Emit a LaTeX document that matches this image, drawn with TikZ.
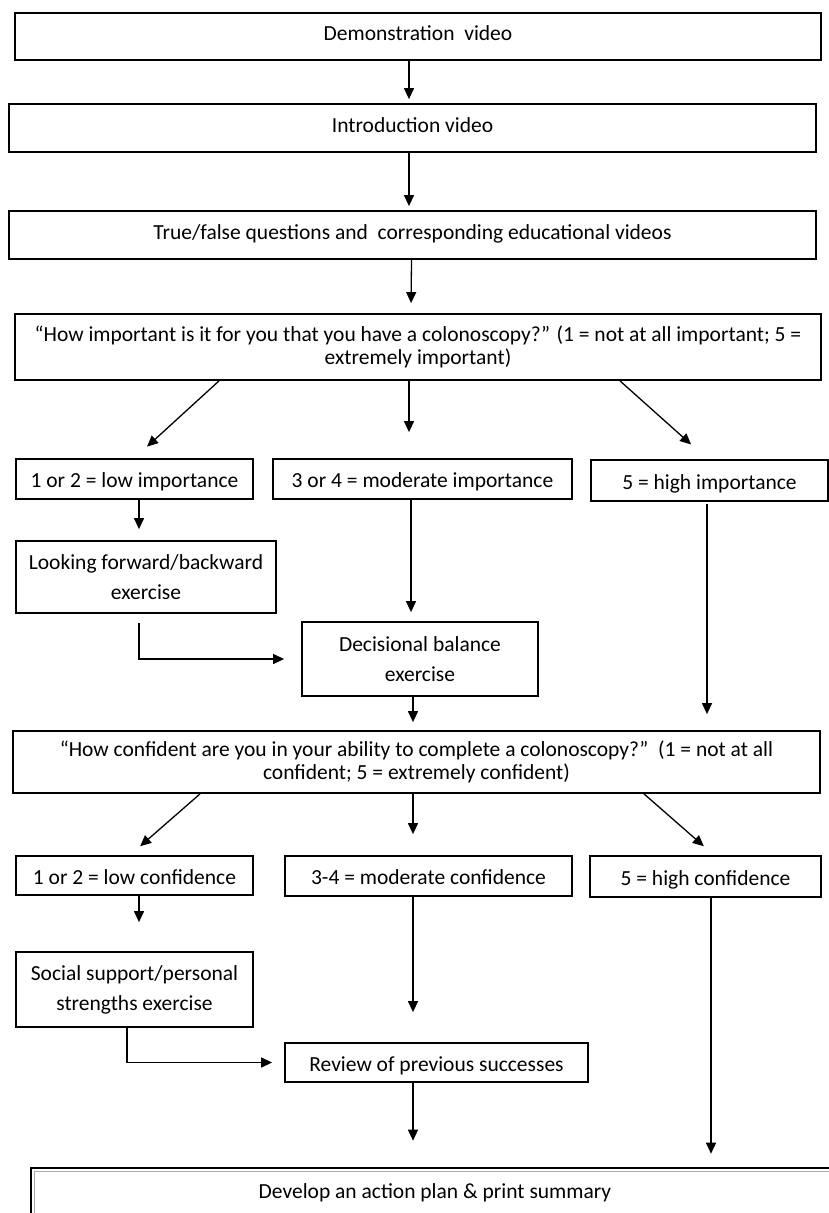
\documentclass[tikz,border=0pt]{standalone}
\usepackage{fontspec}
\setmainfont{Carlito}
\usetikzlibrary{arrows.meta}

\begin{document}
\begin{tikzpicture}[x=1pt, y=-1pt,
    box/.style={draw, line width=1.8pt, align=center, inner sep=0pt,
        font=\fontsize{21.5}{23}\selectfont},
    exbox/.style={box, font=\fontsize{21.5}{30}\selectfont},
    midtext/.style={text height=14pt, text depth=5.5pt},
    lowtext/.style={text height=17.5pt, text depth=0pt},
    planbox/.style={draw, line width=2.6pt, inner sep=0pt,
        minimum width=808pt, minimum height=50pt, font=\fontsize{21.5}{23}\selectfont},
    arr/.style={-{Triangle[length=11pt,width=10pt]}, line width=1.3pt}]
                \useasboundingbox (0,0) rectangle (829,1213);

                % Videos and true/false block
                \node[box, midtext, minimum width=806pt, minimum height=47pt] (demo) at (418,36.5) {Demonstration\ \ video};
                \node[box, midtext, minimum width=807pt, minimum height=48pt] (intro) at (412.5,128) {Introduction video};
                \node[box, midtext, minimum width=807pt, minimum height=48pt] (truefalse) at (412.5,235) {True/false questions and\ \ corresponding educational videos};

                % Importance question and answers
                \node[box, minimum width=806pt, minimum height=66pt] (importq) at (418,347) {“How important is it for you that you have a colonoscopy?” (1 = not at all important; 5 =\\ extremely important)};
                \node[box, lowtext, minimum width=237pt, minimum height=40pt] (lowimp) at (134.5,479) {1 or 2 = low importance};
                \node[box, lowtext, minimum width=299pt, minimum height=40pt] (modimp) at (422.5,479) {3 or 4 = moderate importance};
                \node[box, lowtext, minimum width=237pt, minimum height=41pt] (highimp) at (709.5,480.5) {5 = high importance};
                \node[exbox, minimum width=260pt, minimum height=72pt] (lookfwd) at (146,577) {Looking forward/backward\\ exercise};
                \node[exbox, minimum width=236pt, minimum height=74pt] (decbal) at (420,659) {Decisional balance\\ exercise};

                % Confidence question and answers
                \node[box, minimum width=807pt, minimum height=62pt] (confq) at (416.5,762) {“How confident are you in your ability to complete a colonoscopy?”\ \ (1 = not at all\\ confident; 5 = extremely confident)};
                \node[box, lowtext, minimum width=237pt, minimum height=39pt] (lowconf) at (134.5,875.5) {1 or 2 = low confidence};
                \node[box, lowtext, minimum width=287pt, minimum height=40pt] (modconf) at (428.5,876) {3-4 = moderate confidence};
                \node[box, lowtext, minimum width=231pt, minimum height=41pt] (highconf) at (705.5,876.5) {5 = high confidence};
                \node[exbox, minimum width=237pt, minimum height=75pt] (social) at (134.5,989.5) {Social support/personal\\ strengths exercise};
                \node[box, lowtext, minimum width=303pt, minimum height=39pt] (review) at (436.5,1062.5) {Review of previous successes};

                % Action plan (runs off the page)
                \node[planbox] (plan) at (435,1193) {Develop an action plan \& print summary};
                \draw[gray!70, line width=1.2pt] ([xshift=4.5pt,yshift=-4.5pt]plan.north west) rectangle ([xshift=-4.5pt,yshift=4.5pt]plan.south east);

                % Top chain
                \draw[arr, shorten >=4pt] ([xshift=-9pt]demo.south) -- ([xshift=-3.5pt]intro.north);
                \draw[arr, shorten >=4pt] ([xshift=-3.5pt]intro.south) -- ([xshift=-3.5pt]truefalse.north);
                \draw[arr, shorten >=10pt] ([xshift=-1pt]truefalse.south) -- ([xshift=-7pt]importq.north);

                % Importance branches
                \draw[arr, shorten >=17pt] ([xshift=-199pt]importq.south) -- (lowimp.north);
                \draw[arr, shorten >=26pt] ([xshift=-9pt]importq.south) -- ([xshift=-13.5pt]modimp.north);
                \draw[arr, shorten >=22pt] ([xshift=202pt]importq.south) -- ([xshift=-2pt]highimp.north);
                \draw[arr, shorten >=11pt] ([xshift=4.5pt]lowimp.south) -- ([xshift=-7pt]lookfwd.north);
                \draw[arr, shorten >=17pt] ([xshift=-7pt,yshift=-9pt]lookfwd.south) |- (decbal.west);
                \draw[arr, shorten >=9pt] ([xshift=-11.5pt]modimp.south) -- ([xshift=-9pt]decbal.north);
                \draw[arr, shorten <=2pt, shorten >=16pt] ([xshift=-2.5pt]highimp.south) -- ([xshift=-2.5pt]highimp.south |- confq.north);
                \draw[arr, shorten >=8pt] ([xshift=-7pt]decbal.south) -- ([xshift=-3.5pt]confq.north);

                % Confidence branches
                \draw[arr, shorten >=13.5pt] ([xshift=-216.5pt]confq.south) -- ([xshift=-4.5pt]lowconf.north);
                \draw[arr, shorten >=21pt] ([xshift=-3.5pt]confq.south) -- ([xshift=-15.5pt]modconf.north);
                \draw[arr, shorten >=13.5pt] ([xshift=227.5pt]confq.south) -- ([xshift=8.5pt]highconf.north);
                \draw[arr, shorten >=29pt] ([xshift=4.5pt]lowconf.south) -- ([xshift=4.5pt]social.north);
                \draw[arr, shorten >=12pt] ([xshift=-7.5pt]social.south) |- (review.west);
                \draw[arr, shorten >=30pt] ([xshift=-15.5pt]modconf.south) -- ([xshift=-23.5pt]review.north);
                \draw[arr, shorten >=26pt] ([xshift=-23.5pt]review.south) -- ([xshift=-22pt]plan.north);
                \draw[arr, shorten >=13pt] ([xshift=5.5pt]highconf.south) -- ([xshift=5.5pt]highconf.south |- plan.north);
            \end{tikzpicture}
\end{document}
